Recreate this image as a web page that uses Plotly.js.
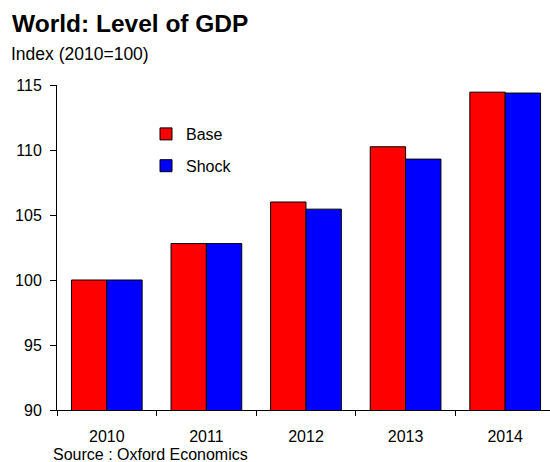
<!DOCTYPE html>
<html>
<head>
<meta charset="utf-8">
<script src="https://cdn.plot.ly/plotly-3.0.1.min.js"></script>
<style>html,body{margin:0;padding:0;background:#fff;}#chart{width:550px;height:462px;}</style>
</head>
<body>
<div id="chart"></div>
<script>
const years = ["2010", "2011", "2012", "2013", "2014"];
const baseValues = [100.0, 102.8, 106.0, 110.25, 114.45];
const shockValues = [100.0, 102.8, 105.45, 109.3, 114.38];
const yTicks = [90, 95, 100, 105, 110, 115];

const FONT = "Liberation Sans, Arial, Helvetica, sans-serif";

const traces = [
  {type: "bar", name: "Base", x: years, y: baseValues, legendgroup: "a",
   marker: {color: "#FF0000", line: {color: "#000000", width: 1}}},
  {type: "bar", name: "Shock", x: years, y: shockValues, legendgroup: "b",
   marker: {color: "#0000FF", line: {color: "#000000", width: 1}}}
];

const layout = {
  width: 550, height: 462,
  margin: {l: 57, r: 0, t: 85, b: 52},
  paper_bgcolor: "#ffffff", plot_bgcolor: "#ffffff",
  font: {family: FONT, size: 16, color: "#000000"},
  barmode: "group", bargap: 0.29, bargroupgap: 0,
  title: {text: "<b>World: Level of GDP</b>", font: {family: FONT, size: 24.5, color: "#000"},
          xref: "container", yref: "container", x: 12/550, xanchor: "left", y: 1 - 23/462, yanchor: "middle"},
  xaxis: {type: "category", range: [-0.5, 4.45], showline: true, linecolor: "#000", linewidth: 1,
          ticks: "outside", tickson: "boundaries", ticklen: 5, tickcolor: "#000", showgrid: false,
          zeroline: false, tickfont: {size: 16}, ticklabelstandoff: 12, fixedrange: true},
  yaxis: {range: [90, 115], tickvals: yTicks, ticktext: yTicks.map(String), showline: true,
          linecolor: "#000", linewidth: 1, ticks: "outside", ticklen: 6, tickcolor: "#000",
          showgrid: false, zeroline: false, tickfont: {size: 16}, ticklabelstandoff: 5, fixedrange: true},
  showlegend: true,
  legend: {x: (146 - 57)/493, xanchor: "left", y: (410 - 117)/325, yanchor: "top",
           bgcolor: "rgba(0,0,0,0)", borderwidth: 0, font: {size: 16},
           traceorder: "grouped", tracegroupgap: 8, itemwidth: 30},
  annotations: [
    {text: "Index (2010=100)", xref: "paper", yref: "paper", x: (9 - 57)/493, y: (410 - 54)/325,
     xanchor: "left", yanchor: "middle", showarrow: false, font: {size: 17.5}},
    {text: "Source : Oxford Economics", xref: "paper", yref: "paper", x: (51 - 57)/493, y: (410 - 454)/325,
     xanchor: "left", yanchor: "middle", showarrow: false, font: {size: 16}}
  ]
};

Plotly.newPlot("chart", traces, layout, {displayModeBar: false, staticPlot: true});
</script>
</body>
</html>
